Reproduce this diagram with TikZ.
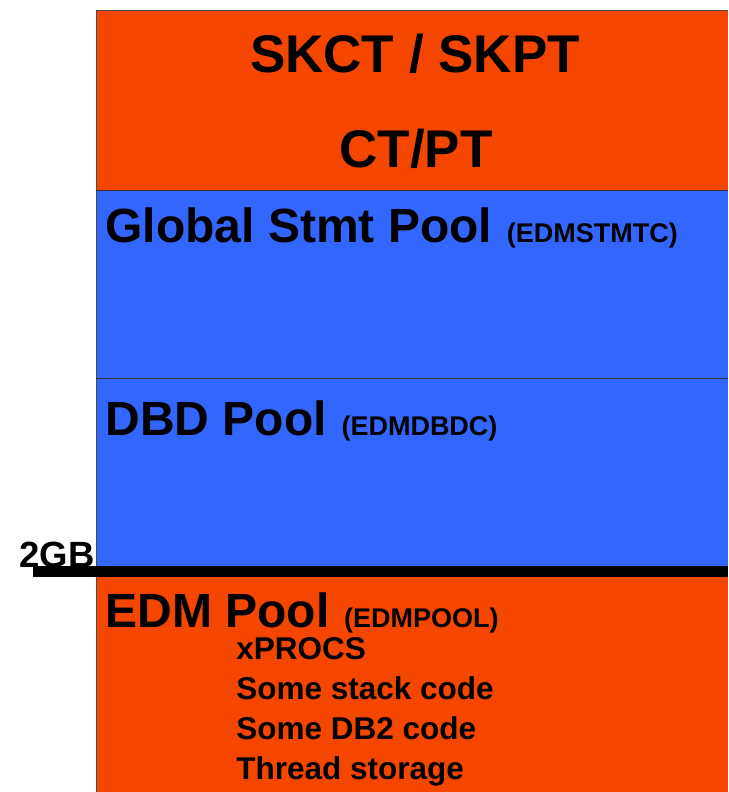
\documentclass[tikz,border=0pt]{standalone}
\usepackage{fontspec}
\setmainfont{Liberation Sans}
\usetikzlibrary{positioning}
\definecolor{poolorange}{RGB}{245,70,0}
\definecolor{poolblue}{RGB}{51,102,255}

\begin{document}
\begin{tikzpicture}[x=1pt, y=-1pt, line width=.8pt,
    every node/.style={inner sep=0pt},
    head/.style={font=\fontsize{53}{53}\selectfont\bfseries},
    pool/.style={font=\fontsize{48}{48}\selectfont\bfseries, anchor=base west},
    tag/.style={font=\fontsize{27}{27}\selectfont\bfseries, anchor=base west},
    item/.style={font=\fontsize{31.5}{31.5}\selectfont\bfseries, anchor=base west}]
    \useasboundingbox (0,0) rectangle (728,792);
    % storage areas
    \fill[poolorange] (96,10) rectangle (728,190);
    \fill[poolblue] (96,190) rectangle (728,566);
    \fill[poolorange] (96,566) rectangle (728,792);
    \draw[black!70] (728,10) -- (96,10) -- (96,792);
    \draw[black!80] (96,190) -- (728,190);
    \draw[black!80] (96,378) -- (728,378);
    % 2GB bar
    \draw[line width=11pt] (33,571.5) -- (728,571.5);
    \node[anchor=base east, font=\fontsize{36.5}{36.5}\selectfont\bfseries] (twogb) at (95,567) {2GB};
    % labels
    \node[head, anchor=base] (skct) at (415,72) {SKCT / SKPT};
    \node[head, anchor=base] (ctpt) at (416,167) {CT/PT};
    \node[pool] (gsp) at (105,242) {Global Stmt Pool};
    \node[tag] (gsptag) at ([xshift=14pt]gsp.base east) {(EDMSTMTC)};
    \node[pool] (dbd) at (105,435) {DBD Pool};
    \node[tag] (dbdtag) at ([xshift=14pt]dbd.base east) {(EDMDBDC)};
    \node[pool] (edm) at (105,627) {EDM Pool};
    \node[tag] (edmtag) at ([xshift=14pt]edm.base east) {(EDMPOOL)};
    \foreach \t [count=\i from 0] in {xPROCS, Some stack code, Some DB2 code, Thread storage}
      \node[item] (item\i) at (236,659+40*\i) {\t};
\end{tikzpicture}
\end{document}
